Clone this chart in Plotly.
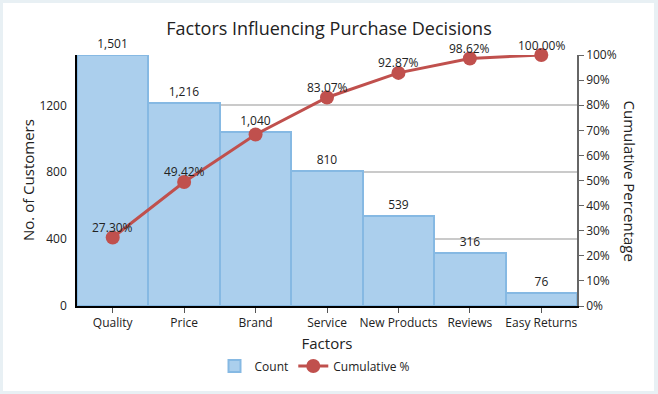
import plotly.graph_objects as go

categories = ["Quality", "Price", "Brand", "Service", "New Products", "Reviews", "Easy Returns"]
counts = [1501, 1216, 1040, 810, 539, 316, 76]
cumulative_pct = [27.30, 49.42, 68.34, 83.07, 92.87, 98.62, 100.00]
cum_labels = ["27.30%", "49.42%", "", "83.07%", "92.87%", "98.62%", "100.00%"]
left_ticks = [0, 400, 800, 1200]
right_ticks = [0, 10, 20, 30, 40, 50, 60, 70, 80, 90, 100]

FONT = "Open Sans"
W, H = 658, 394
ml, mr, mt, mb = 77, 81, 55, 88
pw, ph = W - ml - mr, H - mt - mb

fig = go.Figure()
fig.add_trace(go.Bar(
    x=categories, y=counts, name="Count",
    marker=dict(color="#abcfed", line=dict(color="#86b9e3", width=2)),
    text=[f"{v:,}" for v in counts], textposition="outside",
    textfont=dict(size=12, color="#222", family=FONT),
    cliponaxis=False,
))
fig.add_trace(go.Scatter(
    x=categories, y=cumulative_pct, name="Cumulative %", yaxis="y2",
    mode="lines+markers",
    line=dict(color="#c0504d", width=3),
    marker=dict(color="#c0504d", size=14),
    cliponaxis=False,
))

for cat, val, lab in zip(categories, cumulative_pct, cum_labels):
    if lab:
        fig.add_annotation(x=cat, y=val, xref="x", yref="y2", text=lab, showarrow=False,
                           yshift=10, xanchor="center", yanchor="middle",
                           font=dict(size=12, color="#222", family=FONT))

fig.update_layout(
    width=W, height=H,
    margin=dict(l=ml, r=mr, t=mt, b=mb, autoexpand=False),
    paper_bgcolor="#e8f0f4", plot_bgcolor="rgba(0,0,0,0)",
    font=dict(family=FONT, color="#222"),
    bargap=0,
    showlegend=True,
    legend=dict(orientation="h", x=(315 - ml) / pw, xanchor="center", y=(306 - 366) / ph,
                yanchor="middle", font=dict(size=12, family=FONT), bgcolor="rgba(0,0,0,0)",
                itemwidth=30),
    title=dict(text="Factors Influencing Purchase Decisions", x=0.5, xanchor="center",
               y=1 - 29 / H, yanchor="middle", font=dict(size=18, family=FONT, color="#222")),
    xaxis=dict(
        showline=True, linecolor="black", linewidth=1.5,
        ticks="outside", ticklen=5, tickcolor="#555",
        tickfont=dict(size=12, family=FONT),
        title=dict(text="Factors", font=dict(size=15, family=FONT), standoff=8),
        layer="above traces",
    ),
    yaxis=dict(
        range=[0, 1501], tickvals=left_ticks, showline=True, linecolor="black", linewidth=1.5,
        showgrid=True, gridcolor="rgba(80,80,80,0.3)", gridwidth=1.5, zeroline=False,
        tickfont=dict(size=12, family=FONT), ticks="", ticklabelstandoff=6,
        layer="above traces",
    ),
    yaxis2=dict(
        range=[0, 100], overlaying="y", side="right", tickvals=right_ticks,
        ticktext=[f"{v}%" for v in right_ticks], showgrid=False, zeroline=False,
        showline=True, linecolor="#666", linewidth=1.5,
        ticks="outside", ticklen=5, tickcolor="#666",
        tickfont=dict(size=12, family=FONT),
    ),
)

# white panel
fig.add_shape(type="rect", xref="paper", yref="paper", layer="below",
              x0=(3 - ml) / pw, x1=(654 - ml) / pw,
              y0=(H - mb - 391) / ph, y1=(H - mb - 3) / ph,
              fillcolor="white", line=dict(width=0))

fig.add_annotation(text="No. of Customers", textangle=-90, xref="paper", yref="paper",
                   x=(28 - ml) / pw, y=(306 - 180) / ph, showarrow=False,
                   xanchor="center", yanchor="middle",
                   font=dict(size=15, family=FONT, color="#222"))
fig.add_annotation(text="Cumulative Percentage", textangle=90, xref="paper", yref="paper",
                   x=(630 - ml) / pw, y=0.5, showarrow=False, xanchor="center", yanchor="middle",
                   font=dict(size=15, family=FONT, color="#222"))

fig.write_html("out.html", post_script="document.body.style.margin='0';",
               config={"displayModeBar": False})
